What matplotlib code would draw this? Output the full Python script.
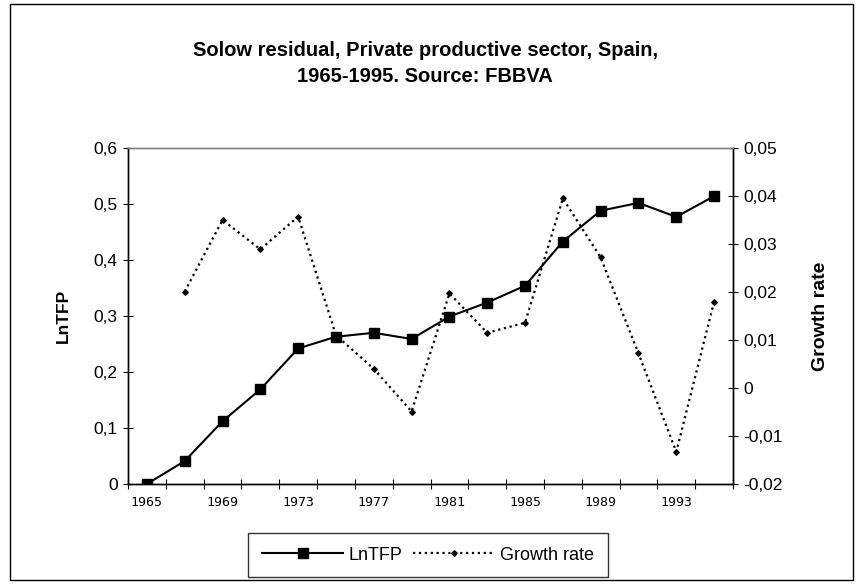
import numpy as np
import matplotlib
matplotlib.use("Agg")
import matplotlib.pyplot as plt
from matplotlib.patches import Rectangle

plt.rcParams['font.family'] = ['Liberation Sans', 'DejaVu Sans']

# Data (every second year)
years = [1965, 1967, 1969, 1971, 1973, 1975, 1977, 1979,
         1981, 1983, 1985, 1987, 1989, 1991, 1993, 1995]
lntfp = [0.0, 0.041, 0.112, 0.169, 0.242, 0.263, 0.270, 0.259,
         0.299, 0.324, 0.354, 0.433, 0.488, 0.502, 0.477, 0.514]
growth = [np.nan, 0.0201, 0.0350, 0.0289, 0.0357, 0.0110, 0.0040, -0.0049,
          0.0197, 0.0115, 0.0136, 0.0395, 0.0272, 0.0072, -0.0133, 0.0180]

left_ticks = [0, 0.1, 0.2, 0.3, 0.4, 0.5, 0.6]
left_labels = ['0', '0,1', '0,2', '0,3', '0,4', '0,5', '0,6']
right_ticks = [-0.02, -0.01, 0, 0.01, 0.02, 0.03, 0.04, 0.05]
right_labels = ['-0,02', '-0,01', '0', '0,01', '0,02', '0,03', '0,04', '0,05']

x = np.arange(len(years))

fig = plt.figure(figsize=(8.59, 5.84), dpi=100)
fig.patches.append(Rectangle((10/859, 4/584), 843/859, 576/584, transform=fig.transFigure,
                             fill=False, edgecolor='black', linewidth=1.0))

ax = fig.add_axes([128/859, 1-484/584, 605/859, 336/584])
ax2 = ax.twinx()

l1, = ax.plot(x, lntfp, '-', color='black', lw=1.5, marker='s', ms=7, label='LnTFP')
l2, = ax2.plot(x, growth, ':', color='black', lw=1.6, marker='D', ms=2.8, label='Growth rate')

ax.set_xlim(-0.5, len(years) - 0.5)
ax.set_ylim(0, 0.6)
ax2.set_ylim(-0.02, 0.05)

# category axis: ticks between categories, labels every second category
ax.set_xticks(np.arange(-0.5, len(years), 1))
ax.set_xticklabels([])
ax.set_xticks(x[::2], minor=True)
ax.set_xticklabels([str(y) for y in years[::2]], minor=True,
                   family='DejaVu Sans Mono', fontsize=9.5)
ax.tick_params(axis='x', which='major', direction='inout', length=7, width=0.8)
ax.tick_params(axis='x', which='minor', length=0, pad=9)

ax.set_yticks(left_ticks)
ax.set_yticklabels(left_labels, fontsize=12.5)
ax.tick_params(axis='y', direction='inout', length=7, width=0.8, pad=4)
ax2.set_yticks(right_ticks)
ax2.set_yticklabels(right_labels, fontsize=12.5)
ax2.tick_params(axis='y', direction='inout', length=7, width=0.8, pad=4)

for a in (ax, ax2):
    a.spines['top'].set_color('#808080')
    a.spines['top'].set_linewidth(1.0)
    for s in ('left', 'right', 'bottom'):
        a.spines[s].set_linewidth(1.0)

ax.set_ylabel('LnTFP', fontsize=12.5, fontweight='bold')
ax.yaxis.set_label_coords(-0.094, 0.5)
ax2.set_ylabel('Growth rate', fontsize=14, fontweight='bold')
ax2.yaxis.set_label_coords(1.1306, 0.5)

fig.text(0.495, 1-63.5/584, 'Solow residual, Private productive sector, Spain,\n1965-1995. Source: FBBVA',
         ha='center', va='center', fontsize=14.5, fontweight='bold', linespacing=1.45)

leg = fig.legend(handles=[l1, l2], loc='center', bbox_to_anchor=(428/859, 1-555/584),
                 ncol=2, fontsize=13, frameon=True, fancybox=False, handlelength=4.5,
                 numpoints=1, borderpad=0.75, columnspacing=0.6, handletextpad=0.3)
leg.get_frame().set_edgecolor('black')
leg.get_frame().set_linewidth(1.0)

fig.savefig('out.png', dpi=100)
